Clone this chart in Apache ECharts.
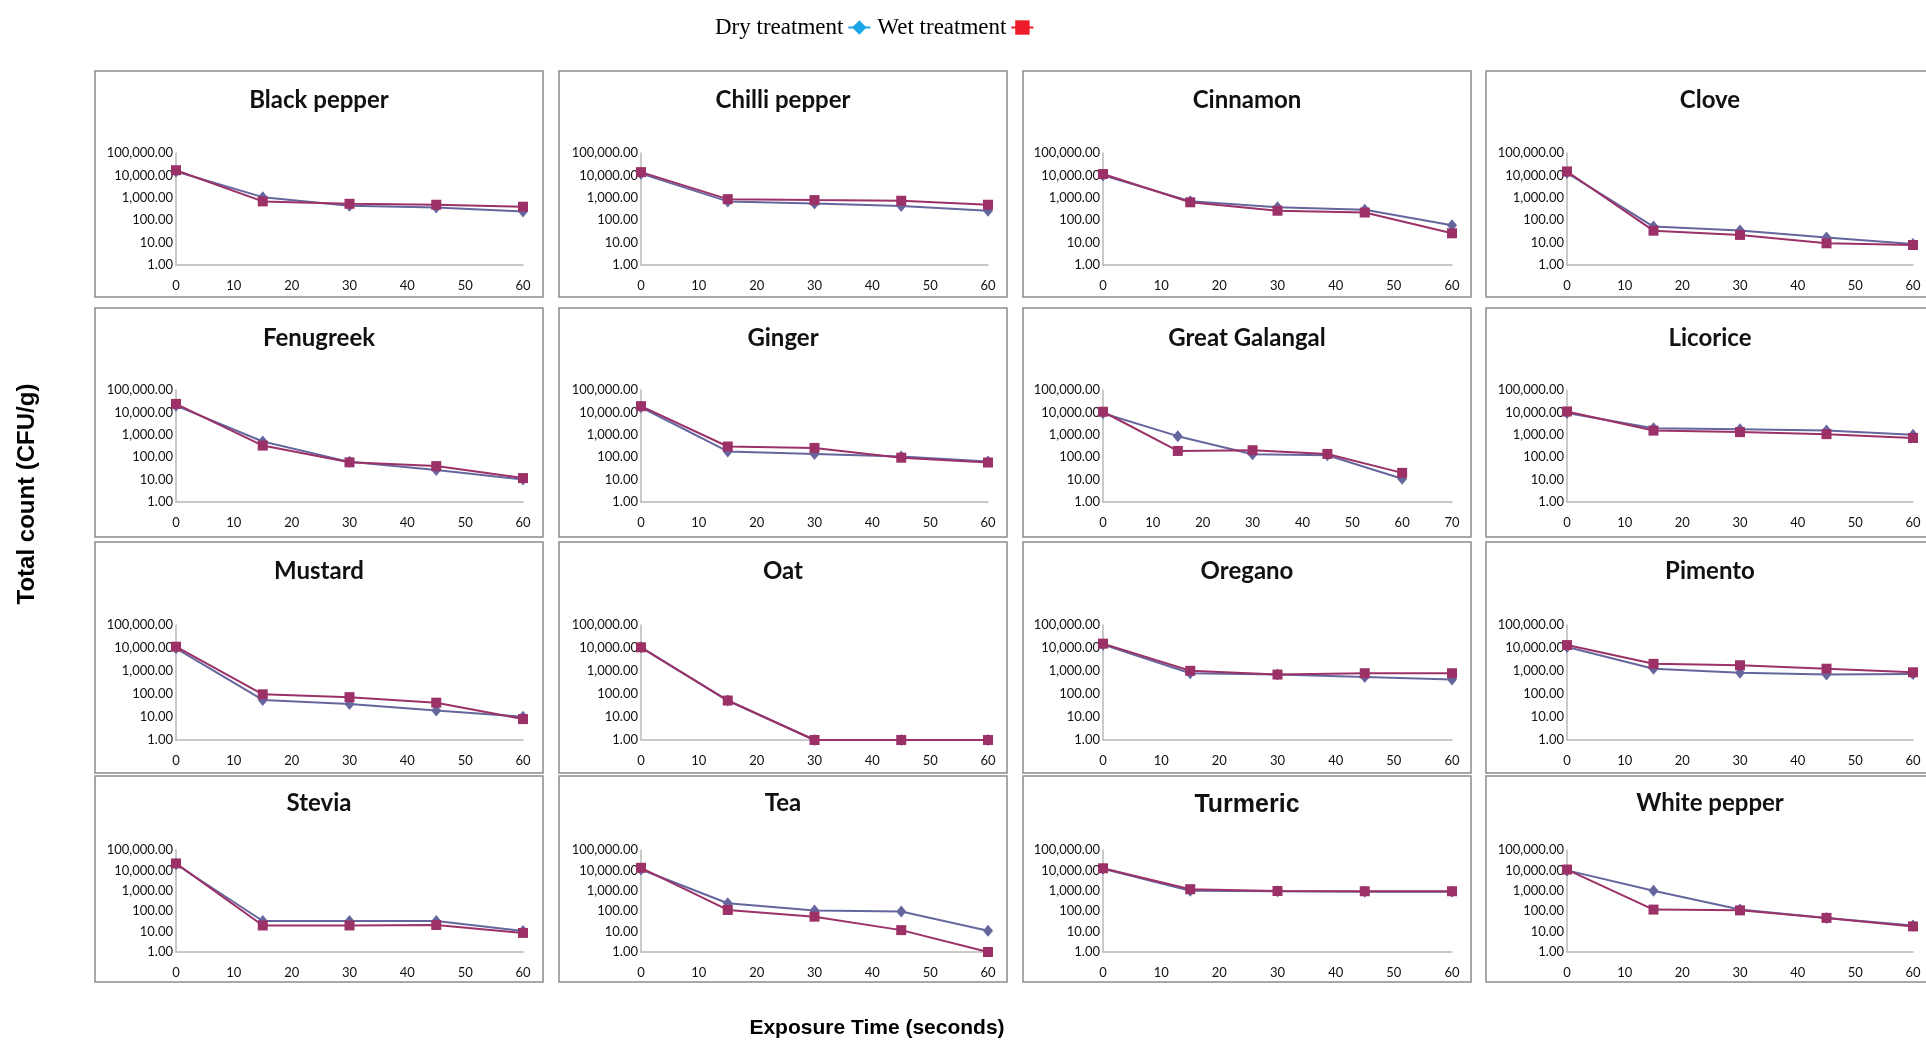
<!DOCTYPE html>
<html>
<head>
<meta charset="utf-8">
<script src="https://cdn.jsdelivr.net/npm/echarts@6/dist/echarts.min.js"></script>
<style>
  html, body { margin: 0; padding: 0; background: #fff; }
  #main { width: 1926px; height: 1040px; }
</style>
</head>
<body>
<div id="main"></div>
<script>
  // data
  var spices = ['Black pepper', 'Chilli pepper', 'Cinnamon', 'Clove',
                'Fenugreek', 'Ginger', 'Great Galangal', 'Licorice',
                'Mustard', 'Oat', 'Oregano', 'Pimento',
                'Stevia', 'Tea', 'Turmeric', 'White pepper'];
  var times = [0, 15, 30, 45, 60];
  var xMax = [60, 60, 60, 60, 60, 60, 70, 60, 60, 60, 60, 60, 60, 60, 60, 60];
  var yTicks = [1, 10, 100, 1000, 10000, 100000];

  var dryCounts = [
    [15000, 1070, 440, 370, 245],
    [12000, 690, 560, 430, 265],
    [10000, 700, 380, 295, 59],
    [13000, 52, 35, 17, 8.6],
    [20000, 500, 62, 27, 10],
    [17000, 180, 140, 108, 65],
    [9100, 870, 135, 123, 11],
    [9500, 1950, 1780, 1550, 1000],
    [9700, 55, 37, 19, 10.3],
    [10700, 52, 1, 1, 1],
    [14000, 800, 700, 550, 430],
    [11000, 1260, 830, 700, 740],
    [20000, 33, 33, 33, 10.8],
    [11000, 245, 107, 96, 11],
    [12000, 1000, 950, 900, 900],
    [10000, 1000, 120, 47, 20]
  ];
  var wetCounts = [
    [17000, 690, 540, 490, 400],
    [14000, 870, 790, 740, 490],
    [11500, 630, 265, 220, 26],
    [15000, 34, 22, 9.3, 7.8],
    [24000, 330, 59, 40, 11.7],
    [19000, 300, 260, 95, 58],
    [10700, 190, 205, 140, 20],
    [11000, 1540, 1320, 1070, 720],
    [11400, 97, 73, 42, 8.1],
    [10700, 52, 1, 1, 1],
    [15500, 1020, 700, 800, 800],
    [13400, 2050, 1780, 1260, 880],
    [22000, 20, 20, 21, 8.6],
    [13400, 115, 54, 11.8, 1],
    [12700, 1200, 980, 950, 950],
    [11000, 120, 110, 47, 18]
  ];

  // layout
  var boxX = [95, 559, 1023, 1486];
  var boxW = 448;
  var boxY = [71, 308, 542, 776];
  var boxH = [226, 229, 231, 206];
  var plotL = [176, 641, 1103, 1567];
  var plotR = [523, 988, 1452, 1913];
  var plotT = [153, 390, 625, 850];
  var plotB = [265, 502, 740, 952];
  var titleY = [100, 338, 571, 803];

  var dryColor = '#66669f';
  var wetColor = '#9b3166';
  var labelFont = 'Lato, "Open Sans", sans-serif';

  var grids = [], xAxes = [], yAxes = [], series = [], graphics = [];

  spices.forEach(function (name, i) {
    var r = Math.floor(i / 4), c = i % 4;
    grids.push({
      left: plotL[c], top: plotT[r],
      width: plotR[c] - plotL[c], height: plotB[r] - plotT[r]
    });
    xAxes.push({
      gridIndex: i, type: 'value', min: 0, max: xMax[i], interval: 10,
      axisLine: { onZero: false, lineStyle: { color: '#b8b8b8', width: 1.5 } },
      axisTick: { show: false },
      splitLine: { show: false },
      axisLabel: { color: '#111', fontSize: 13, fontFamily: labelFont, margin: 14 }
    });
    yAxes.push({
      gridIndex: i, type: 'log', logBase: 10,
      min: yTicks[0], max: yTicks[yTicks.length - 1], interval: 1,
      axisLine: { show: true, lineStyle: { color: '#b8b8b8', width: 1.5 } },
      axisTick: { show: false },
      splitLine: { show: false },
      axisLabel: {
        color: '#111', fontSize: 13, fontFamily: labelFont, margin: 3,
        formatter: function (v) {
          return Number(v).toLocaleString('en-US', { minimumFractionDigits: 2, maximumFractionDigits: 2 });
        }
      }
    });
    series.push({
      name: 'Dry treatment', type: 'line', xAxisIndex: i, yAxisIndex: i,
      data: times.map(function (t, k) { return [t, dryCounts[i][k]]; }),
      symbol: 'diamond', symbolSize: [10, 12],
      lineStyle: { color: dryColor, width: 2 },
      itemStyle: { color: dryColor },
      animation: false, z: 2
    });
    series.push({
      name: 'Wet treatment', type: 'line', xAxisIndex: i, yAxisIndex: i,
      data: times.map(function (t, k) { return [t, wetCounts[i][k]]; }),
      symbol: 'rect', symbolSize: 10,
      lineStyle: { color: wetColor, width: 2 },
      itemStyle: { color: wetColor },
      animation: false, z: 3
    });
    // panel frame
    graphics.push({
      type: 'rect', silent: true, z: -1,
      shape: { x: boxX[c], y: boxY[r], width: boxW, height: boxH[r] },
      style: { fill: 'none', stroke: '#8c8c8c', lineWidth: 1.5 }
    });
    var turmeric = name === 'Turmeric';
    graphics.push({
      type: 'text', silent: true,
      x: boxX[c] + boxW / 2, y: titleY[r] + (turmeric ? 2 : 0),
      style: {
        text: name, align: 'center', verticalAlign: 'middle',
        fontSize: turmeric ? 25 : 24, fontWeight: 'bold',
        fontFamily: turmeric ? '"Liberation Sans", Arial, sans-serif' : labelFont,
        fill: '#111'
      }
    });
  });

  graphics.push({
    type: 'text', silent: true, x: 27, y: 494, rotation: Math.PI / 2,
    style: {
      text: 'Total count (CFU/g)', align: 'center', verticalAlign: 'middle',
      fontSize: 24, fontWeight: 'bold', fontFamily: '"Liberation Sans", Arial, sans-serif', fill: '#000'
    }
  });
  graphics.push({
    type: 'text', silent: true, x: 877, y: 1028,
    style: {
      text: 'Exposure Time (seconds)', align: 'center', verticalAlign: 'middle',
      fontSize: 21, fontWeight: 'bold', fontFamily: '"Liberation Sans", Arial, sans-serif', fill: '#000'
    }
  });

  var chart = echarts.init(document.getElementById('main'));
  chart.setOption({
    animation: false,
    legend: {
      left: 710, top: 11, align: 'right', itemGap: 6,
      itemWidth: 22, itemHeight: 18,
      textStyle: { fontFamily: '"Liberation Serif", "Times New Roman", serif', fontSize: 23, color: '#000' },
      data: [
        { name: 'Dry treatment', itemStyle: { color: '#1aa5e6' }, lineStyle: { color: '#1aa5e6', width: 2 } },
        { name: 'Wet treatment', itemStyle: { color: '#ee1c2a' }, lineStyle: { color: '#ee1c2a', width: 2 } }
      ]
    },
    grid: grids,
    xAxis: xAxes,
    yAxis: yAxes,
    series: series,
    graphic: graphics
  });
</script>
</body>
</html>
